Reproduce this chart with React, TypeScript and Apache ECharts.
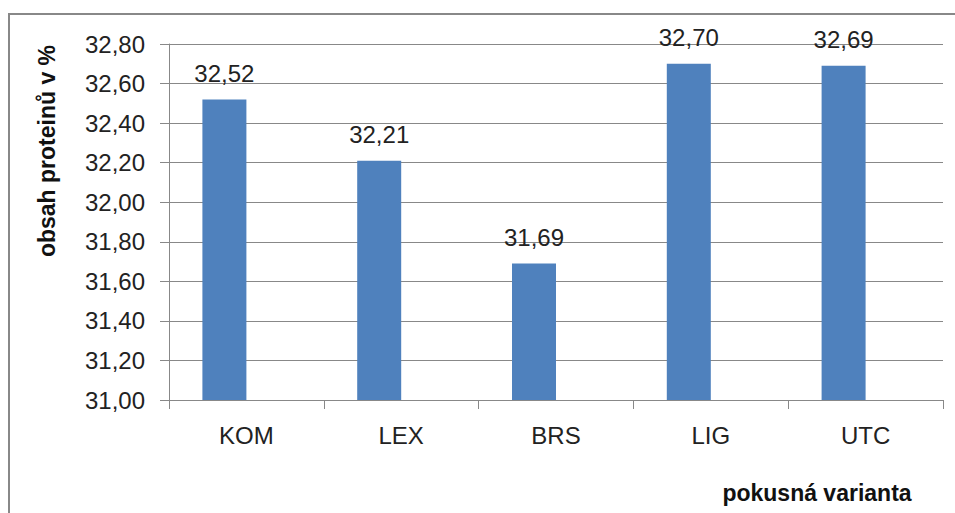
import React, { useEffect, useRef } from "react";
import * as echarts from "echarts";

const categories = ["KOM", "LEX", "BRS", "LIG", "UTC"];
const values = [32.52, 32.21, 31.69, 32.7, 32.69];
const emptySeries = [null, null, null, null, null];
const yMin = 31.0;
const yMax = 32.8;
const yStep = 0.2;
const yTitle = "obsah proteinů v %";
const xTitle = "pokusná varianta";

const fmt = (v: number) => v.toFixed(2).replace(".", ",");

export default function App() {
  const ref = useRef<HTMLDivElement>(null);
  useEffect(() => {
    if (!ref.current) return;
    const chart = echarts.init(ref.current, undefined, { renderer: "svg" });
    const font = "'Liberation Sans', Arial, sans-serif";
    chart.setOption({
      animation: false,
      backgroundColor: "#ffffff",
      textStyle: { fontFamily: font },
      grid: { left: 169, right: 12, top: 44, bottom: 113, containLabel: false },
      xAxis: {
        type: "category",
        data: categories,
        boundaryGap: true,
        axisLine: { show: true, lineStyle: { color: "#888888", width: 1 } },
        axisTick: { show: true, length: 9, alignWithLabel: false, lineStyle: { color: "#888888" } },
        axisLabel: { color: "#222222", fontSize: 24, lineHeight: 24, margin: 23, fontFamily: font },
        splitLine: { show: false },
      },
      yAxis: {
        type: "value",
        min: yMin,
        max: yMax,
        interval: yStep,
        axisLine: { show: true, lineStyle: { color: "#888888", width: 1 } },
        axisTick: { show: true, length: 9, lineStyle: { color: "#888888" } },
        axisLabel: {
          color: "#222222",
          fontSize: 24,
          margin: 24,
          fontFamily: font,
          formatter: (v: number) => fmt(v),
        },
        splitLine: { show: true, lineStyle: { color: "#888888", width: 1 } },
      },
      series: [
        {
          type: "bar",
          data: values,
          barWidth: 44,
          barGap: "0%",
          itemStyle: { color: "#4F81BD" },
          label: {
            show: true,
            position: "top",
            distance: 14,
            color: "#222222",
            fontSize: 24,
            lineHeight: 24,
            fontFamily: font,
            formatter: (p: any) => fmt(p.value),
          },
        },
        {
          type: "bar",
          data: emptySeries,
          barWidth: 44,
          barGap: "0%",
          itemStyle: { color: "#C0504D" },
        },
      ],
      graphic: [
        {
          type: "rect",
          shape: { x: 9, y: 14, width: 3000, height: 3000 },
          style: { fill: "none", stroke: "#888888", lineWidth: 2 },
          silent: true,
        },
        {
          type: "text",
          x: 47,
          y: 151,
          rotation: Math.PI / 2,
          style: {
            text: yTitle,
            fill: "#111111",
            font: `bold 23px ${font}`,
            textAlign: "center",
            textVerticalAlign: "middle",
          },
        },
        {
          type: "text",
          x: 817,
          y: 493,
          style: {
            text: xTitle,
            fill: "#111111",
            font: `bold 23px ${font}`,
            textAlign: "center",
            textVerticalAlign: "middle",
          },
        },
      ],
    });
    return () => chart.dispose();
  }, []);
  return (
    <div
      ref={ref}
      style={{ position: "fixed", left: 0, top: 0, width: 955, height: 513 }}
    />
  );
}
